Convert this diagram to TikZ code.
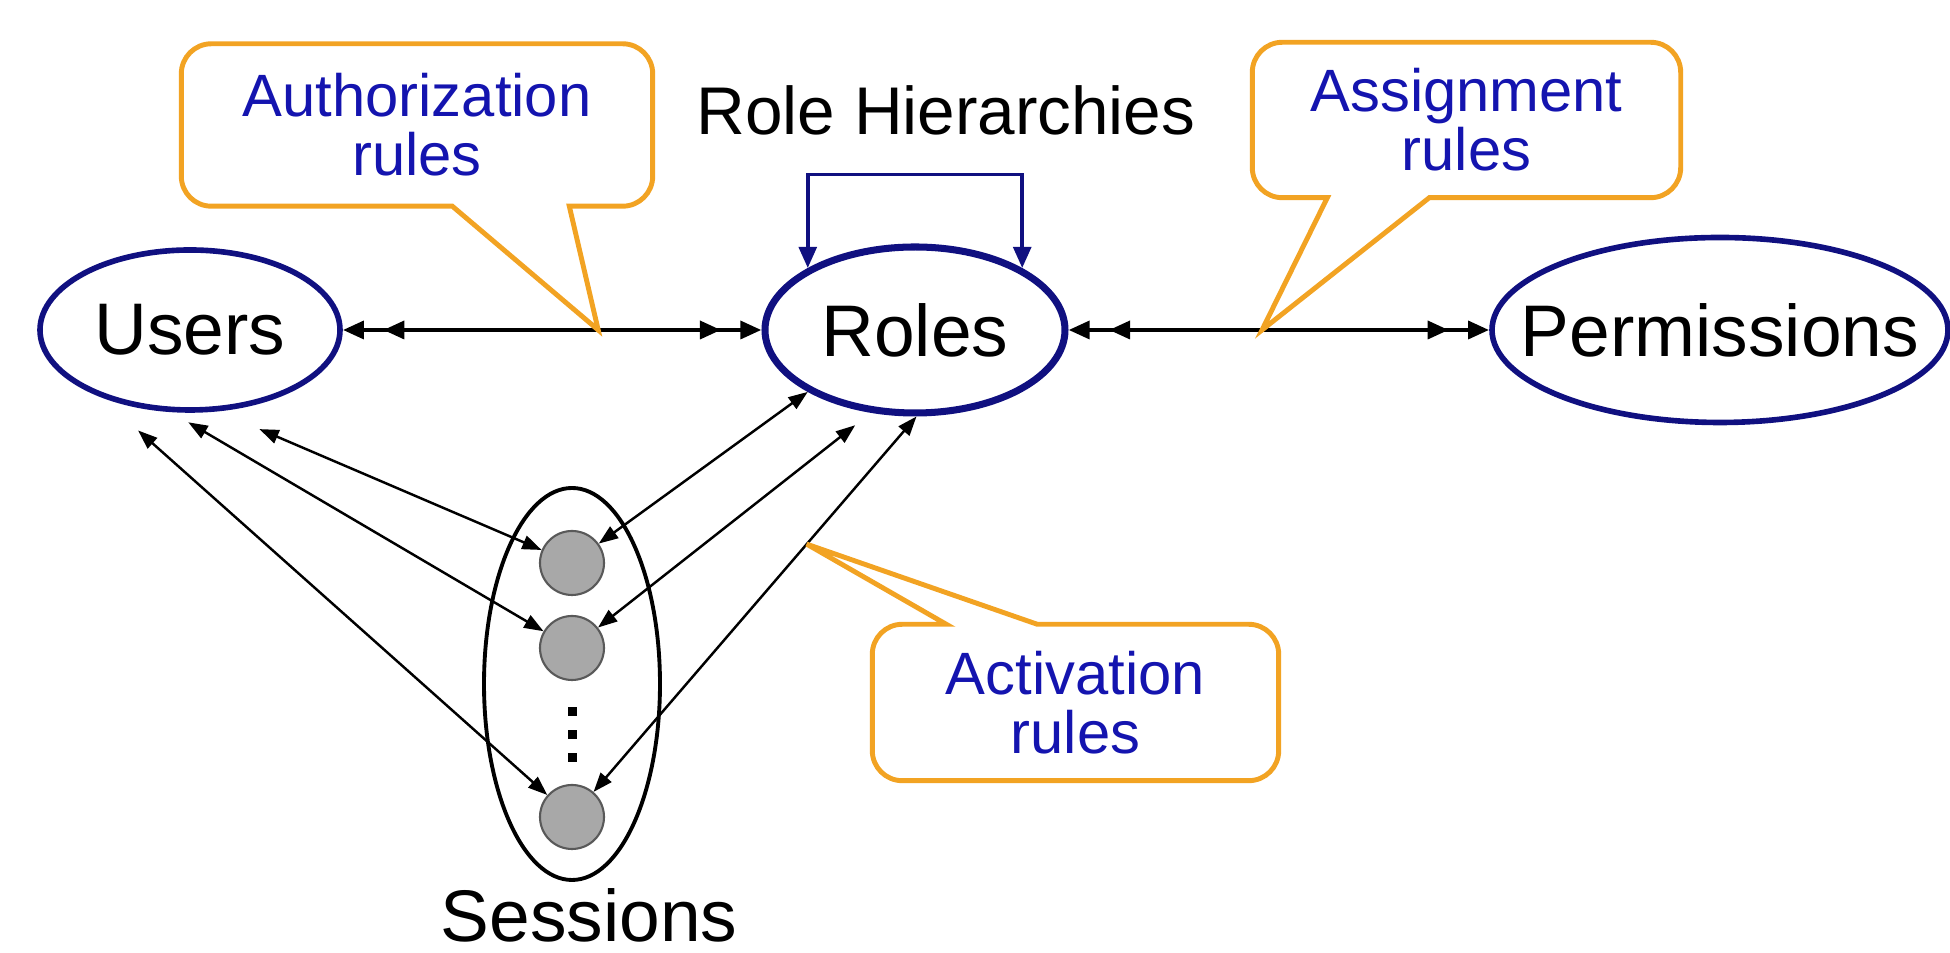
\documentclass[tikz,border=0pt]{standalone}
\usepackage{fontspec}
\setmainfont{Liberation Sans}
\usetikzlibrary{shapes.geometric,arrows.meta}

\definecolor{navy}{RGB}{16,16,128}
\definecolor{ruleblue}{RGB}{20,20,175}
\definecolor{calloutorange}{RGB}{242,163,35}
\definecolor{sessgray}{RGB}{168,168,168}

\tikzset{
    tri/.tip={Triangle[length=6pt,width=5pt]},
    dtri/.tip={Triangle[length=6pt,width=5pt,sep=5.5pt] Triangle[length=6pt,width=5pt]},
    stri/.tip={Triangle[length=5.5pt,width=4pt]}
}

\begin{document}
\begin{tikzpicture}[
    entity/.style={ellipse, draw=navy, line width=1.6pt, inner sep=0pt, font=\fontsize{20.8}{25}\selectfont},
    caption/.style={inner sep=0pt, font=\fontsize{20.8}{25}\selectfont},
    rule/.style={text=ruleblue, align=center, inner sep=0pt, font=\fontsize{17}{16.8}\selectfont},
    bubble/.style={draw=calloutorange, line width=1.4pt},
    dbl/.style={line width=1.3pt, dtri-dtri},
    sess/.style={line width=0.7pt, stri-stri},
    session/.style={circle, draw=black!65, fill=sessgray, line width=0.6pt, minimum size=0.64cm, inner sep=0pt},
    hier/.style={draw=navy, line width=1.1pt, tri-tri}
]
    \useasboundingbox (0,0) rectangle (19.5,9.53);

    % users, roles, permissions
    \node[entity, minimum width=3cm, minimum height=1.6cm] (users) at (1.90,6.23) {Users};
    \node[entity, line width=2pt, minimum width=3cm, minimum height=1.66cm] (roles) at (9.15,6.23) {Roles};
    \node[entity, inner xsep=-0.4cm, minimum width=4.56cm, minimum height=1.85cm] (perms) at (17.20,6.23) {Permissions};

    % sessions
    \node[ellipse, draw, line width=1.1pt, minimum width=1.76cm, minimum height=3.92cm] (sessions) at (5.72,2.69) {};
    \node[session] (s1) at (5.72,3.90) {};
    \node[session] (s2) at (5.72,3.05) {};
    \node[session] (s3) at (5.72,1.36) {};
    \foreach \y in {2.41,2.18,1.95}
        \fill (5.72,\y) +(-0.045,-0.045) rectangle +(0.045,0.045);
    \node[caption, anchor=base] (sesslabel) at (5.89,0.11) {Sessions};

    \draw[dbl] (users) -- coordinate[pos=0.61] (authtip) (roles);
    \draw[dbl] (roles) -- coordinate[pos=0.46] (assigntip) (perms);

    \draw[sess, shorten <=4.5mm] (users.289) -- (s1);
    \draw[sess, shorten <=2mm] (users.257) -- (s2);
    \draw[sess, shorten <=5mm] (users.217) -- (s3);
    \draw[sess] (s1) -- (roles.210);
    \draw[sess, shorten >=2mm] (s2) -- (roles.242);
    \draw[sess] (s3) -- coordinate[pos=0.66] (acttip) (roles.271);

    % role hierarchy
    \node[caption, font=\fontsize{19.2}{23}\selectfont, anchor=base] (hierlabel) at (9.46,8.18) {Role Hierarchies};
    \draw[hier] (roles.150) |- ([yshift=0.69cm]roles.north) -| (roles.30);

    % callouts
    \node[rule, minimum width=4.70cm, minimum height=1.61cm] (authrule) at (4.17,8.28) {Authorization\\rules};
    \draw[bubble] ([xshift=2.71cm]authrule.south west) [rounded corners=0.3cm]
        -- (authrule.south west) -- (authrule.north west) -- (authrule.north east)
        -- (authrule.south east) [sharp corners] -- ([xshift=3.88cm]authrule.south west)
        -- (authtip) -- cycle;

    \node[rule, minimum width=4.27cm, minimum height=1.54cm] (assignrule) at (14.665,8.33) {Assignment\\rules};
    \draw[bubble] ([xshift=1.77cm]assignrule.south west) [rounded corners=0.3cm]
        -- (assignrule.south east) -- (assignrule.north east) -- (assignrule.north west)
        -- (assignrule.south west) [sharp corners] -- ([xshift=0.75cm]assignrule.south west)
        -- (assigntip) -- cycle;

    \node[rule, minimum width=4.05cm, minimum height=1.55cm] (actrule) at (10.755,2.505) {Activation\\rules};
    \draw[bubble] ([xshift=1.65cm]actrule.north west) [rounded corners=0.3cm]
        -- (actrule.north east) -- (actrule.south east) -- (actrule.south west)
        -- (actrule.north west) [sharp corners] -- ([xshift=0.74cm]actrule.north west)
        -- (acttip) -- cycle;
\end{tikzpicture}
\end{document}
